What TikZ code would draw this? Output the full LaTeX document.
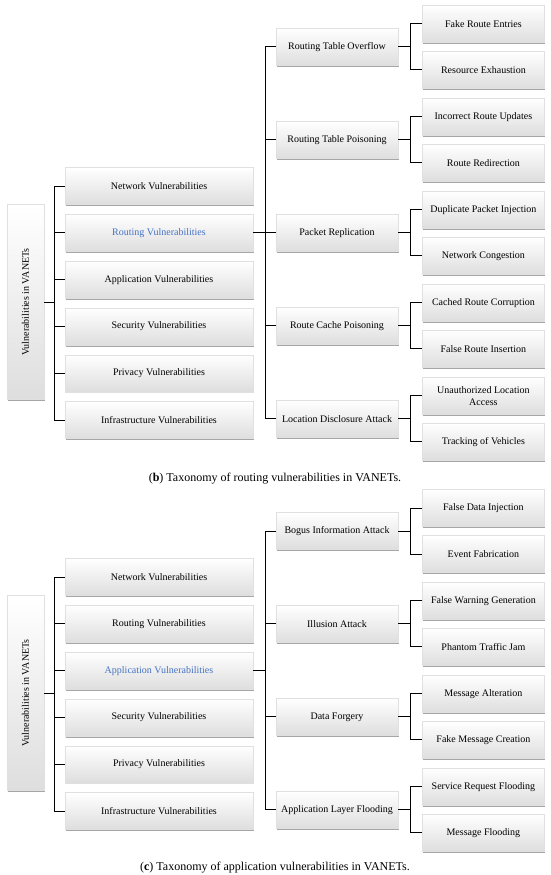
\documentclass[tikz,border=0pt]{standalone}
\usepackage{fontspec}
\setmainfont{Liberation Serif}
\usepackage{tikz}
\usetikzlibrary{positioning, shadows, calc}
\definecolor{hlblue}{RGB}{68,114,196}

\begin{document}
\begin{tikzpicture}[x=1pt, y=-1pt,
    % Compact styles for taxonomy boxes
    vbox/.style={draw=black!12, top color=white, bottom color=black!13, font=\fontsize{10}{12}\selectfont,
        align=center, inner sep=2pt, minimum height=37pt,
        drop shadow={shadow xshift=1pt, shadow yshift=-1.6pt, fill=black, opacity=0.35}},
    rootbox/.style={vbox, minimum width=37pt, minimum height=195pt},
    lvone/.style={vbox, minimum width=188pt},
    lvtwo/.style={vbox, minimum width=122pt},
    lvthree/.style={vbox, minimum width=122pt},
    conn/.style={line width=1pt, black},
    capt/.style={font=\fontsize{12}{14}\selectfont},
    % Pic for the root and its six branches (#1: routing text, #2: application text)
    pics/lefttree/.style 2 args={code={
        \node[rootbox] (-root) {\rotatebox{90}{Vulnerabilities in VANETs}};
        \coordinate (-bus) at ([xshift=10pt]-root.east);
        \node[lvone] (-net) at (133.5,-116) {Network Vulnerabilities};
        \node[lvone, below=9.4pt of -net, text=#1] (-rout) {Routing Vulnerabilities};
        \node[lvone, below=9.4pt of -rout, text=#2] (-app) {Application Vulnerabilities};
        \node[lvone, below=9.4pt of -app] (-sec) {Security Vulnerabilities};
        \node[lvone, below=9.4pt of -sec] (-priv) {Privacy Vulnerabilities};
        \node[lvone, below=9.4pt of -priv] (-inf) {Infrastructure Vulnerabilities};
        \draw[conn] (-root.east) -- (-bus);
        \draw[conn] (-net.west) -| (-bus) |- (-inf.west);
        \draw[conn] (-bus |- -rout.west) -- (-rout.west);
        \draw[conn] (-bus |- -app.west) -- (-app.west);
        \draw[conn] (-bus |- -sec.west) -- (-sec.west);
        \draw[conn] (-bus |- -priv.west) -- (-priv.west);
    }}]

\useasboundingbox (0,0) rectangle (550,875);

% (b) routing vulnerabilities
\pic (b) at (25.5,302) {lefttree={hlblue}{black}};

\node[lvtwo] (rto) at (337,47) {Routing Table Overflow};
\node[lvtwo, below=55.5pt of rto] (rtp) {Routing Table Poisoning};
\node[lvtwo, below=55.5pt of rtp] (prep) {Packet Replication};
\node[lvtwo, below=55.5pt of prep] (rcp) {Route Cache Poisoning};
\node[lvtwo, below=55.5pt of rcp] (lda) {Location Disclosure Attack};

\coordinate (rb) at ([xshift=12pt]b-rout.east);
\draw[conn] (b-rout.east) -- (rb);
\draw[conn] (rto.west) -| (rb) |- (lda.west);
\draw[conn] (rb |- rtp.west) -- (rtp.west);
\draw[conn] (rb |- prep.west) -- (prep.west);
\draw[conn] (rb |- rcp.west) -- (rcp.west);

\node[lvthree, right=24pt of rto, yshift=23pt] (fre) {Fake Route Entries};
\node[lvthree, right=24pt of rto, yshift=-23pt] (rex) {Resource Exhaustion};
\node[lvthree, right=24pt of rtp, yshift=23pt] (iru) {Incorrect Route Updates};
\node[lvthree, right=24pt of rtp, yshift=-23pt] (rred) {Route Redirection};
\node[lvthree, right=24pt of prep, yshift=23pt] (dpi) {Duplicate Packet Injection};
\node[lvthree, right=24pt of prep, yshift=-23pt] (ncong) {Network Congestion};
\node[lvthree, right=24pt of rcp, yshift=23pt] (crc) {Cached Route Corruption};
\node[lvthree, right=24pt of rcp, yshift=-23pt] (fri) {False Route Insertion};
\node[lvthree, right=24pt of lda, yshift=23pt] (ula) {Unauthorized Location\\Access};
\node[lvthree, right=24pt of lda, yshift=-23pt] (tov) {Tracking of Vehicles};

\draw[conn] (rto.east) -- ([xshift=12pt]rto.east);
\draw[conn] (fre.west) -| ([xshift=12pt]rto.east) |- (rex.west);
\draw[conn] (rtp.east) -- ([xshift=12pt]rtp.east);
\draw[conn] (iru.west) -| ([xshift=12pt]rtp.east) |- (rred.west);
\draw[conn] (prep.east) -- ([xshift=12pt]prep.east);
\draw[conn] (dpi.west) -| ([xshift=12pt]prep.east) |- (ncong.west);
\draw[conn] (rcp.east) -- ([xshift=12pt]rcp.east);
\draw[conn] (crc.west) -| ([xshift=12pt]rcp.east) |- (fri.west);
\draw[conn] (lda.east) -- ([xshift=12pt]lda.east);
\draw[conn] (ula.west) -| ([xshift=12pt]lda.east) |- (tov.west);

\node[capt] (capb) at (275,479) {(\textbf{b}) Taxonomy of routing vulnerabilities in VANETs.};

% (c) application vulnerabilities
\pic (c) at (25.5,693) {lefttree={black}{hlblue}};

\node[lvtwo] (bia) at (337,531) {Bogus Information Attack};
\node[lvtwo, below=55.5pt of bia] (ila) {Illusion Attack};
\node[lvtwo, below=55.5pt of ila] (dfor) {Data Forgery};
\node[lvtwo, below=55.5pt of dfor] (alf) {Application Layer Flooding};

\coordinate (cb) at ([xshift=12pt]c-app.east);
\draw[conn] (c-app.east) -- (cb);
\draw[conn] (bia.west) -| (cb) |- (alf.west);
\draw[conn] (cb |- ila.west) -- (ila.west);
\draw[conn] (cb |- dfor.west) -- (dfor.west);

\node[lvthree, right=24pt of bia, yshift=23pt] (fdi) {False Data Injection};
\node[lvthree, right=24pt of bia, yshift=-23pt] (efab) {Event Fabrication};
\node[lvthree, right=24pt of ila, yshift=23pt] (fwg) {False Warning Generation};
\node[lvthree, right=24pt of ila, yshift=-23pt] (ptj) {Phantom Traffic Jam};
\node[lvthree, right=24pt of dfor, yshift=23pt] (malt) {Message Alteration};
\node[lvthree, right=24pt of dfor, yshift=-23pt] (fmc) {Fake Message Creation};
\node[lvthree, right=24pt of alf, yshift=23pt] (srf) {Service Request Flooding};
\node[lvthree, right=24pt of alf, yshift=-23pt] (mfl) {Message Flooding};

\draw[conn] (bia.east) -- ([xshift=12pt]bia.east);
\draw[conn] (fdi.west) -| ([xshift=12pt]bia.east) |- (efab.west);
\draw[conn] (ila.east) -- ([xshift=12pt]ila.east);
\draw[conn] (fwg.west) -| ([xshift=12pt]ila.east) |- (ptj.west);
\draw[conn] (dfor.east) -- ([xshift=12pt]dfor.east);
\draw[conn] (malt.west) -| ([xshift=12pt]dfor.east) |- (fmc.west);
\draw[conn] (alf.east) -- ([xshift=12pt]alf.east);
\draw[conn] (srf.west) -| ([xshift=12pt]alf.east) |- (mfl.west);

\node[capt] (capc) at (275,868) {(\textbf{c}) Taxonomy of application vulnerabilities in VANETs.};

\end{tikzpicture}
\end{document}
